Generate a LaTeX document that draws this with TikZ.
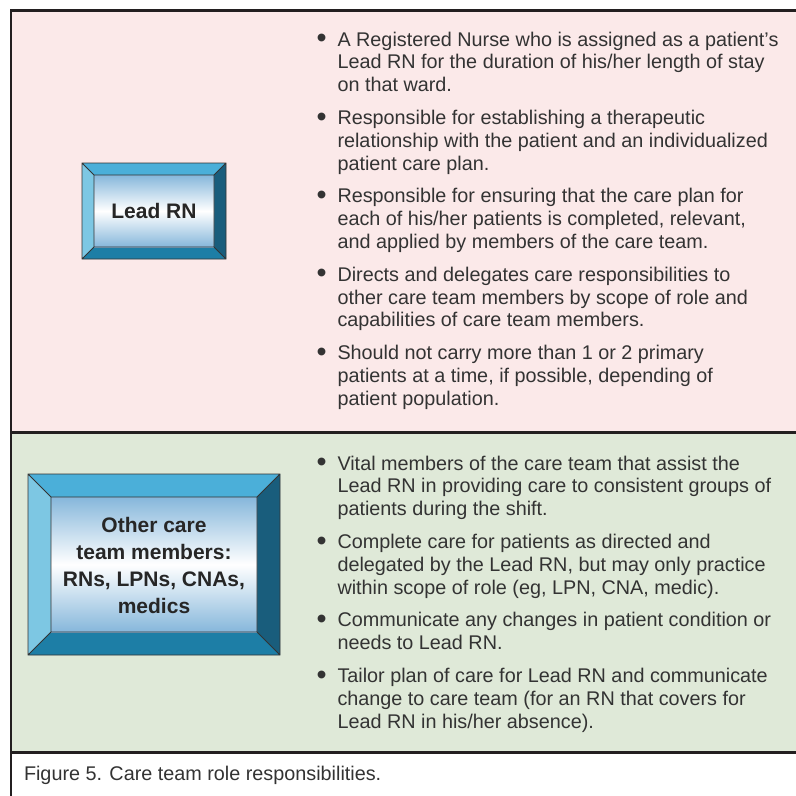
\documentclass[tikz,border=0pt]{standalone}
\usepackage{fontspec}
\usepackage{graphicx}
\setmainfont{Liberation Sans}
\usetikzlibrary{positioning}

\definecolor{pinkbg}{HTML}{FBE9E9}
\definecolor{greenbg}{HTML}{DFE9D8}
\definecolor{rulecol}{HTML}{231F20}
\definecolor{ink}{HTML}{333333}
\definecolor{bvtop}{HTML}{4BAFD9}
\definecolor{bvleft}{HTML}{7DC7E3}
\definecolor{bvright}{HTML}{195D7C}
\definecolor{bvbottom}{HTML}{1D7EA6}
\definecolor{bvface}{HTML}{86B7DB}

\newcommand{\bevelbox}[5]{%
  \fill[bvtop]    (#1,#2) -- (#3,#2) -- ({#3-#5},{#2+#5}) -- ({#1+#5},{#2+#5}) -- cycle;
  \fill[bvbottom] (#1,#4) -- (#3,#4) -- ({#3-#5},{#4-#5}) -- ({#1+#5},{#4-#5}) -- cycle;
  \fill[bvleft]   (#1,#2) -- ({#1+#5},{#2+#5}) -- ({#1+#5},{#4-#5}) -- (#1,#4) -- cycle;
  \fill[bvright]  (#3,#2) -- ({#3-#5},{#2+#5}) -- ({#3-#5},{#4-#5}) -- (#3,#4) -- cycle;
  \shade[top color=bvface, bottom color=bvface, middle color=white]
    ({#1+#5},{#2+#5}) rectangle ({#3-#5},{#4-#5});
  \draw[bevelline] (#1,#2) rectangle (#3,#4)
    ({#1+#5},{#2+#5}) rectangle ({#3-#5},{#4-#5})
    (#1,#2) -- ({#1+#5},{#2+#5}) (#3,#2) -- ({#3-#5},{#2+#5})
    (#3,#4) -- ({#3-#5},{#4-#5}) (#1,#4) -- ({#1+#5},{#4-#5});
}
\newcommand{\bigdot}{\raisebox{-1.6pt}{\scalebox{1.45}{\textbullet}}}
\newcommand{\bulletitem}[1]{%
  \begin{tabular}[t]{@{}p{20pt}@{}l@{}}\hspace{-1pt}\bigdot & #1\end{tabular}}

\begin{document}
\begin{tikzpicture}[x=1pt, y=-1pt,
    every node/.style = {inner sep=0pt, outer sep=0pt, text=ink},
    item/.style = {anchor=base west,
        font=\fontsize{19.8}{22.8}\selectfont},
    nextitem/.style = {below=10pt of #1.south west, anchor=north west,
        font=\fontsize{19.8}{22.8}\selectfont},
    boxlabel/.style = {align=center, text=black!85,
        font=\fontsize{21}{27}\selectfont\bfseries},
    bevelline/.style = {draw=black!80, line width=0.9}]
  \useasboundingbox (0,0) rectangle (796,796);
  \fill[white] (0,0) rectangle (796,796);
  \fill[pinkbg] (11,10) rectangle (796,432);
  \fill[greenbg] (11,432) rectangle (796,752);
  \draw[rulecol, line width=2.5] (11,796) -- (11,10.5) -- (796,10.5);
  \draw[rulecol, line width=3.5] (11,432.5) -- (796,432.5);
  \draw[rulecol, line width=2.5] (11,752.5) -- (796,752.5);

  \bevelbox{82}{163}{226}{259}{12}
  \node [boxlabel] (lead) at (154,211) {Lead RN};

  \bevelbox{28}{474}{280}{655}{23}
  \node [boxlabel] (others) at (154,565.5)
      {Other care\\team members:\\RNs, LPNs, CNAs,\\medics};

  \node [item] (r1) at (317.5,46) {\bulletitem{%
      A Registered Nurse who is assigned as a patient’s\\
      & Lead RN for the duration of his/her length of stay\\
      & on that ward.}};
  \node [nextitem=r1] (r2) {\bulletitem{%
      Responsible for establishing a therapeutic\\
      & relationship with the patient and an individualized\\
      & patient care plan.}};
  \node [nextitem=r2] (r3) {\bulletitem{%
      Responsible for ensuring that the care plan for\\
      & each of his/her patients is completed, relevant,\\
      & and applied by members of the care team.}};
  \node [nextitem=r3] (r4) {\bulletitem{%
      Directs and delegates care responsibilities to\\
      & other care team members by scope of role and\\
      & capabilities of care team members.}};
  \node [nextitem=r4] (r5) {\bulletitem{%
      Should not carry more than 1 or 2 primary\\
      & patients at a time, if possible, depending of\\
      & patient population.}};

  \node [item] (g1) at (317.5,470) {\bulletitem{%
      Vital members of the care team that assist the\\
      & Lead RN in providing care to consistent groups of\\
      & patients during the shift.}};
  \node [nextitem=g1] (g2) {\bulletitem{%
      Complete care for patients as directed and\\
      & delegated by the Lead RN, but may only practice\\
      & within scope of role (eg, LPN, CNA, medic).}};
  \node [nextitem=g2] (g3) {\bulletitem{%
      Communicate any changes in patient condition or\\
      & needs to Lead RN.}};
  \node [nextitem=g3] (g4) {\bulletitem{%
      Tailor plan of care for Lead RN and communicate\\
      & change to care team (for an RN that covers for\\
      & Lead RN in his/her absence).}};

  \node [item] (caption) at (24,780)
      {Figure 5. Care team role responsibilities.};
\end{tikzpicture}
\end{document}
